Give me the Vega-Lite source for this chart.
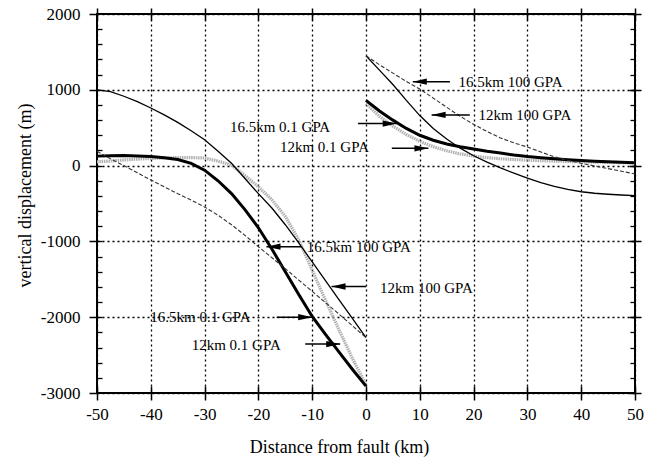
{
  "$schema": "https://vega.github.io/schema/vega-lite/v6.json",
  "autosize": "none",
  "width": 538,
  "height": 379,
  "padding": {"left": 97, "top": 14, "right": 25, "bottom": 65},
  "background": "white",
  "config": {
    "view": {"stroke": "#000", "strokeWidth": 2},
    "font": "Liberation Serif",
    "axis": {"labelFont": "Liberation Serif", "titleFont": "Liberation Serif", "labelColor": "#000", "titleColor": "#000", "tickColor": "#000", "labelFlush": false, "labelOverlap": false, "titleFontWeight": "normal", "domain": false}
  },
  "datasets": {
    "curves": [
      {"curve": "12km 0.1 GPA", "side": "L", "x": -50, "y": 50},
      {"curve": "12km 0.1 GPA", "side": "L", "x": -47.5, "y": 60},
      {"curve": "12km 0.1 GPA", "side": "L", "x": -45, "y": 75},
      {"curve": "12km 0.1 GPA", "side": "L", "x": -42.5, "y": 85},
      {"curve": "12km 0.1 GPA", "side": "L", "x": -40, "y": 95},
      {"curve": "12km 0.1 GPA", "side": "L", "x": -37.5, "y": 100},
      {"curve": "12km 0.1 GPA", "side": "L", "x": -35, "y": 105},
      {"curve": "12km 0.1 GPA", "side": "L", "x": -32.5, "y": 105},
      {"curve": "12km 0.1 GPA", "side": "L", "x": -30, "y": 100},
      {"curve": "12km 0.1 GPA", "side": "L", "x": -27.5, "y": 60},
      {"curve": "12km 0.1 GPA", "side": "L", "x": -25, "y": 5},
      {"curve": "12km 0.1 GPA", "side": "L", "x": -22.5, "y": -130},
      {"curve": "12km 0.1 GPA", "side": "L", "x": -20, "y": -280},
      {"curve": "12km 0.1 GPA", "side": "L", "x": -17.5, "y": -450},
      {"curve": "12km 0.1 GPA", "side": "L", "x": -15, "y": -670},
      {"curve": "12km 0.1 GPA", "side": "L", "x": -12.5, "y": -980},
      {"curve": "12km 0.1 GPA", "side": "L", "x": -10, "y": -1380},
      {"curve": "12km 0.1 GPA", "side": "L", "x": -7.5, "y": -1780},
      {"curve": "12km 0.1 GPA", "side": "L", "x": -5, "y": -2170},
      {"curve": "12km 0.1 GPA", "side": "L", "x": -2.5, "y": -2550},
      {"curve": "12km 0.1 GPA", "side": "L", "x": 0, "y": -2890},
      {"curve": "12km 0.1 GPA", "side": "R", "x": 0, "y": 820},
      {"curve": "12km 0.1 GPA", "side": "R", "x": 2.5, "y": 650},
      {"curve": "12km 0.1 GPA", "side": "R", "x": 5, "y": 520},
      {"curve": "12km 0.1 GPA", "side": "R", "x": 7.5, "y": 410},
      {"curve": "12km 0.1 GPA", "side": "R", "x": 10, "y": 320},
      {"curve": "12km 0.1 GPA", "side": "R", "x": 12.5, "y": 250},
      {"curve": "12km 0.1 GPA", "side": "R", "x": 15, "y": 195},
      {"curve": "12km 0.1 GPA", "side": "R", "x": 17.5, "y": 155},
      {"curve": "12km 0.1 GPA", "side": "R", "x": 20, "y": 125},
      {"curve": "12km 0.1 GPA", "side": "R", "x": 22.5, "y": 105},
      {"curve": "12km 0.1 GPA", "side": "R", "x": 25, "y": 90},
      {"curve": "12km 0.1 GPA", "side": "R", "x": 27.5, "y": 80},
      {"curve": "12km 0.1 GPA", "side": "R", "x": 30, "y": 72},
      {"curve": "12km 0.1 GPA", "side": "R", "x": 32.5, "y": 65},
      {"curve": "12km 0.1 GPA", "side": "R", "x": 35, "y": 60},
      {"curve": "12km 0.1 GPA", "side": "R", "x": 37.5, "y": 55},
      {"curve": "12km 0.1 GPA", "side": "R", "x": 40, "y": 50},
      {"curve": "12km 0.1 GPA", "side": "R", "x": 42.5, "y": 46},
      {"curve": "12km 0.1 GPA", "side": "R", "x": 45, "y": 42},
      {"curve": "12km 0.1 GPA", "side": "R", "x": 47.5, "y": 38},
      {"curve": "12km 0.1 GPA", "side": "R", "x": 50, "y": 35},

      {"curve": "16.5km 0.1 GPA", "side": "L", "x": -50, "y": 125},
      {"curve": "16.5km 0.1 GPA", "side": "L", "x": -47.5, "y": 130},
      {"curve": "16.5km 0.1 GPA", "side": "L", "x": -45, "y": 132},
      {"curve": "16.5km 0.1 GPA", "side": "L", "x": -42.5, "y": 128},
      {"curve": "16.5km 0.1 GPA", "side": "L", "x": -40, "y": 120},
      {"curve": "16.5km 0.1 GPA", "side": "L", "x": -37.5, "y": 105},
      {"curve": "16.5km 0.1 GPA", "side": "L", "x": -35, "y": 80},
      {"curve": "16.5km 0.1 GPA", "side": "L", "x": -32.5, "y": 30},
      {"curve": "16.5km 0.1 GPA", "side": "L", "x": -30, "y": -60},
      {"curve": "16.5km 0.1 GPA", "side": "L", "x": -27.5, "y": -200},
      {"curve": "16.5km 0.1 GPA", "side": "L", "x": -25, "y": -370},
      {"curve": "16.5km 0.1 GPA", "side": "L", "x": -22.5, "y": -580},
      {"curve": "16.5km 0.1 GPA", "side": "L", "x": -20, "y": -820},
      {"curve": "16.5km 0.1 GPA", "side": "L", "x": -17.5, "y": -1100},
      {"curve": "16.5km 0.1 GPA", "side": "L", "x": -15, "y": -1400},
      {"curve": "16.5km 0.1 GPA", "side": "L", "x": -12.5, "y": -1700},
      {"curve": "16.5km 0.1 GPA", "side": "L", "x": -10, "y": -1990},
      {"curve": "16.5km 0.1 GPA", "side": "L", "x": -7.5, "y": -2230},
      {"curve": "16.5km 0.1 GPA", "side": "L", "x": -5, "y": -2460},
      {"curve": "16.5km 0.1 GPA", "side": "L", "x": -2.5, "y": -2690},
      {"curve": "16.5km 0.1 GPA", "side": "L", "x": 0, "y": -2910},
      {"curve": "16.5km 0.1 GPA", "side": "R", "x": 0, "y": 860},
      {"curve": "16.5km 0.1 GPA", "side": "R", "x": 2.5, "y": 720},
      {"curve": "16.5km 0.1 GPA", "side": "R", "x": 5, "y": 600},
      {"curve": "16.5km 0.1 GPA", "side": "R", "x": 7.5, "y": 490},
      {"curve": "16.5km 0.1 GPA", "side": "R", "x": 10, "y": 400},
      {"curve": "16.5km 0.1 GPA", "side": "R", "x": 12.5, "y": 335},
      {"curve": "16.5km 0.1 GPA", "side": "R", "x": 15, "y": 285},
      {"curve": "16.5km 0.1 GPA", "side": "R", "x": 17.5, "y": 250},
      {"curve": "16.5km 0.1 GPA", "side": "R", "x": 20, "y": 220},
      {"curve": "16.5km 0.1 GPA", "side": "R", "x": 22.5, "y": 190},
      {"curve": "16.5km 0.1 GPA", "side": "R", "x": 25, "y": 165},
      {"curve": "16.5km 0.1 GPA", "side": "R", "x": 27.5, "y": 140},
      {"curve": "16.5km 0.1 GPA", "side": "R", "x": 30, "y": 120},
      {"curve": "16.5km 0.1 GPA", "side": "R", "x": 32.5, "y": 105},
      {"curve": "16.5km 0.1 GPA", "side": "R", "x": 35, "y": 90},
      {"curve": "16.5km 0.1 GPA", "side": "R", "x": 37.5, "y": 77},
      {"curve": "16.5km 0.1 GPA", "side": "R", "x": 40, "y": 66},
      {"curve": "16.5km 0.1 GPA", "side": "R", "x": 42.5, "y": 57},
      {"curve": "16.5km 0.1 GPA", "side": "R", "x": 45, "y": 50},
      {"curve": "16.5km 0.1 GPA", "side": "R", "x": 47.5, "y": 44},
      {"curve": "16.5km 0.1 GPA", "side": "R", "x": 50, "y": 38},

      {"curve": "12km 100 GPA", "side": "L", "x": -50, "y": 1000},
      {"curve": "12km 100 GPA", "side": "L", "x": -47.5, "y": 975},
      {"curve": "12km 100 GPA", "side": "L", "x": -45, "y": 915},
      {"curve": "12km 100 GPA", "side": "L", "x": -42.5, "y": 845},
      {"curve": "12km 100 GPA", "side": "L", "x": -40, "y": 760},
      {"curve": "12km 100 GPA", "side": "L", "x": -37.5, "y": 670},
      {"curve": "12km 100 GPA", "side": "L", "x": -35, "y": 570},
      {"curve": "12km 100 GPA", "side": "L", "x": -32.5, "y": 460},
      {"curve": "12km 100 GPA", "side": "L", "x": -30, "y": 340},
      {"curve": "12km 100 GPA", "side": "L", "x": -27.5, "y": 190},
      {"curve": "12km 100 GPA", "side": "L", "x": -25, "y": 30},
      {"curve": "12km 100 GPA", "side": "L", "x": -22.5, "y": -170},
      {"curve": "12km 100 GPA", "side": "L", "x": -20, "y": -370},
      {"curve": "12km 100 GPA", "side": "L", "x": -17.5, "y": -560},
      {"curve": "12km 100 GPA", "side": "L", "x": -15, "y": -780},
      {"curve": "12km 100 GPA", "side": "L", "x": -12.5, "y": -1020},
      {"curve": "12km 100 GPA", "side": "L", "x": -10, "y": -1270},
      {"curve": "12km 100 GPA", "side": "L", "x": -7.5, "y": -1520},
      {"curve": "12km 100 GPA", "side": "L", "x": -5, "y": -1770},
      {"curve": "12km 100 GPA", "side": "L", "x": -2.5, "y": -2020},
      {"curve": "12km 100 GPA", "side": "L", "x": 0, "y": -2270},
      {"curve": "12km 100 GPA", "side": "R", "x": 0, "y": 1450},
      {"curve": "12km 100 GPA", "side": "R", "x": 2.5, "y": 1260},
      {"curve": "12km 100 GPA", "side": "R", "x": 5, "y": 1070},
      {"curve": "12km 100 GPA", "side": "R", "x": 7.5, "y": 860},
      {"curve": "12km 100 GPA", "side": "R", "x": 10, "y": 660},
      {"curve": "12km 100 GPA", "side": "R", "x": 12.5, "y": 490},
      {"curve": "12km 100 GPA", "side": "R", "x": 15, "y": 350},
      {"curve": "12km 100 GPA", "side": "R", "x": 17.5, "y": 230},
      {"curve": "12km 100 GPA", "side": "R", "x": 20, "y": 130},
      {"curve": "12km 100 GPA", "side": "R", "x": 22.5, "y": 45},
      {"curve": "12km 100 GPA", "side": "R", "x": 25, "y": -30},
      {"curve": "12km 100 GPA", "side": "R", "x": 27.5, "y": -100},
      {"curve": "12km 100 GPA", "side": "R", "x": 30, "y": -165},
      {"curve": "12km 100 GPA", "side": "R", "x": 32.5, "y": -225},
      {"curve": "12km 100 GPA", "side": "R", "x": 35, "y": -275},
      {"curve": "12km 100 GPA", "side": "R", "x": 37.5, "y": -315},
      {"curve": "12km 100 GPA", "side": "R", "x": 40, "y": -345},
      {"curve": "12km 100 GPA", "side": "R", "x": 42.5, "y": -365},
      {"curve": "12km 100 GPA", "side": "R", "x": 45, "y": -378},
      {"curve": "12km 100 GPA", "side": "R", "x": 47.5, "y": -388},
      {"curve": "12km 100 GPA", "side": "R", "x": 50, "y": -395},

      {"curve": "16.5km 100 GPA", "side": "L", "x": -50, "y": 190},
      {"curve": "16.5km 100 GPA", "side": "L", "x": -47.5, "y": 90},
      {"curve": "16.5km 100 GPA", "side": "L", "x": -45, "y": 0},
      {"curve": "16.5km 100 GPA", "side": "L", "x": -42.5, "y": -95},
      {"curve": "16.5km 100 GPA", "side": "L", "x": -40, "y": -190},
      {"curve": "16.5km 100 GPA", "side": "L", "x": -37.5, "y": -280},
      {"curve": "16.5km 100 GPA", "side": "L", "x": -35, "y": -370},
      {"curve": "16.5km 100 GPA", "side": "L", "x": -32.5, "y": -455},
      {"curve": "16.5km 100 GPA", "side": "L", "x": -30, "y": -545},
      {"curve": "16.5km 100 GPA", "side": "L", "x": -27.5, "y": -655},
      {"curve": "16.5km 100 GPA", "side": "L", "x": -25, "y": -780},
      {"curve": "16.5km 100 GPA", "side": "L", "x": -22.5, "y": -920},
      {"curve": "16.5km 100 GPA", "side": "L", "x": -20, "y": -1070},
      {"curve": "16.5km 100 GPA", "side": "L", "x": -17.5, "y": -1215},
      {"curve": "16.5km 100 GPA", "side": "L", "x": -15, "y": -1360},
      {"curve": "16.5km 100 GPA", "side": "L", "x": -12.5, "y": -1510},
      {"curve": "16.5km 100 GPA", "side": "L", "x": -10, "y": -1660},
      {"curve": "16.5km 100 GPA", "side": "L", "x": -7.5, "y": -1810},
      {"curve": "16.5km 100 GPA", "side": "L", "x": -5, "y": -1960},
      {"curve": "16.5km 100 GPA", "side": "L", "x": -2.5, "y": -2115},
      {"curve": "16.5km 100 GPA", "side": "L", "x": 0, "y": -2270},
      {"curve": "16.5km 100 GPA", "side": "R", "x": 0, "y": 1450},
      {"curve": "16.5km 100 GPA", "side": "R", "x": 2.5, "y": 1330},
      {"curve": "16.5km 100 GPA", "side": "R", "x": 5, "y": 1220},
      {"curve": "16.5km 100 GPA", "side": "R", "x": 7.5, "y": 1110},
      {"curve": "16.5km 100 GPA", "side": "R", "x": 10, "y": 1010},
      {"curve": "16.5km 100 GPA", "side": "R", "x": 12.5, "y": 890},
      {"curve": "16.5km 100 GPA", "side": "R", "x": 15, "y": 770},
      {"curve": "16.5km 100 GPA", "side": "R", "x": 17.5, "y": 650},
      {"curve": "16.5km 100 GPA", "side": "R", "x": 20, "y": 545},
      {"curve": "16.5km 100 GPA", "side": "R", "x": 22.5, "y": 450},
      {"curve": "16.5km 100 GPA", "side": "R", "x": 25, "y": 365},
      {"curve": "16.5km 100 GPA", "side": "R", "x": 27.5, "y": 300},
      {"curve": "16.5km 100 GPA", "side": "R", "x": 30, "y": 245},
      {"curve": "16.5km 100 GPA", "side": "R", "x": 32.5, "y": 180},
      {"curve": "16.5km 100 GPA", "side": "R", "x": 35, "y": 115},
      {"curve": "16.5km 100 GPA", "side": "R", "x": 37.5, "y": 70},
      {"curve": "16.5km 100 GPA", "side": "R", "x": 40, "y": 30},
      {"curve": "16.5km 100 GPA", "side": "R", "x": 42.5, "y": -5},
      {"curve": "16.5km 100 GPA", "side": "R", "x": 45, "y": -40},
      {"curve": "16.5km 100 GPA", "side": "R", "x": 47.5, "y": -75},
      {"curve": "16.5km 100 GPA", "side": "R", "x": 50, "y": -110}
    ],
    "arrows": [
      {"dir": "L", "head": 8.7, "tail": 15.6, "y": 1107},
      {"dir": "L", "head": 12.2, "tail": 19.3, "y": 668},
      {"dir": "R", "head": 5.7, "tail": -1.5, "y": 555},
      {"dir": "R", "head": 11.6, "tail": 4.8, "y": 228},
      {"dir": "L", "head": -18.5, "tail": -12, "y": -1070},
      {"dir": "L", "head": -6.4, "tail": 0, "y": -1595},
      {"dir": "R", "head": -10, "tail": -16.6, "y": -2000},
      {"dir": "R", "head": -4.8, "tail": -11.3, "y": -2354}
    ],
    "labels": [
      {"label": "16.5km 100 GPA", "x": 17.2, "y": 1107},
      {"label": "12km 100 GPA", "x": 20.9, "y": 668},
      {"label": "16.5km 0.1 GPA", "x": -25.3, "y": 515},
      {"label": "12km 0.1 GPA", "x": -16, "y": 250},
      {"label": "16.5km 100 GPA", "x": -11, "y": -1070},
      {"label": "12km 100 GPA", "x": 2.6, "y": -1610},
      {"label": "16.5km 0.1 GPA", "x": -40.1, "y": -1995},
      {"label": "12km 0.1 GPA", "x": -32.4, "y": -2367}
    ]
  },
  "resolve": {"scale": {"x": "shared", "y": "shared"}, "axis": {"x": "independent", "y": "independent"}},
  "layer": [
    {
      "data": {"name": "curves"},
      "transform": [{"filter": "datum.curve === '12km 0.1 GPA'"}],
      "mark": {"type": "line", "stroke": "#b0b0b0", "strokeWidth": 3.2, "strokeDash": [1.5, 0.8]},
      "encoding": {
        "x": {"field": "x", "type": "quantitative", "scale": {"domain": [-50, 50], "nice": false, "zero": false},
          "axis": {"orient": "bottom", "values": [-50, -40, -30, -20, -10, 0, 10, 20, 30, 40, 50], "labelExpr": "datum.value < 0 ? '-' + abs(datum.value) : '' + datum.value", "title": "Distance from fault (km)", "grid": true, "gridDash": [2, 3], "gridColor": "#000", "gridWidth": 1.3, "gridOpacity": 1, "ticks": true, "tickSize": 7, "tickWidth": 1.5, "labelPadding": 6, "labelFontSize": 17, "titleFontSize": 18, "titleX": 242, "titleY": 54, "titleAlign": "center", "titleBaseline": "middle"}},
        "y": {"field": "y", "type": "quantitative", "scale": {"domain": [-3000, 2000], "nice": false, "zero": false},
          "axis": {"orient": "left", "values": [-3000, -2000, -1000, 0, 1000, 2000], "labelExpr": "datum.value < 0 ? '-' + abs(datum.value) : '' + datum.value", "title": "vertical displacement (m)", "grid": true, "gridDash": [2, 3], "gridColor": "#000", "gridWidth": 1.3, "gridOpacity": 1, "ticks": true, "tickSize": 8, "tickWidth": 1.5, "labelPadding": 9, "labelFontSize": 17, "titleFontSize": 18, "titleAngle": 270, "titleX": -72, "titleY": 181, "titleAlign": "center", "titleBaseline": "middle"}},
        "detail": {"field": "side"}
      }
    },
    {
      "data": {"name": "curves"},
      "transform": [{"filter": "datum.curve === '16.5km 0.1 GPA'"}],
      "mark": {"type": "line", "stroke": "#000", "strokeWidth": 3},
      "encoding": {
        "x": {"field": "x", "type": "quantitative",
          "axis": {"orient": "bottom", "values": [-50, -40, -30, -20, -10, 0, 10, 20, 30, 40, 50], "offset": -7, "tickSize": 7, "tickWidth": 1.5, "labels": false, "grid": false, "title": null}},
        "y": {"field": "y", "type": "quantitative",
          "axis": {"orient": "left", "values": [-2800, -2600, -2400, -2200, -2000, -1800, -1600, -1400, -1200, -1000, -800, -600, -400, -200, 0, 200, 400, 600, 800, 1000, 1200, 1400, 1600, 1800], "offset": -5, "tickSize": 5, "tickWidth": 1.3, "labels": false, "grid": false, "title": null}},
        "detail": {"field": "side"}
      }
    },
    {
      "data": {"name": "curves"},
      "transform": [{"filter": "datum.curve === '12km 100 GPA'"}],
      "mark": {"type": "line", "stroke": "#000", "strokeWidth": 1.3},
      "encoding": {
        "x": {"field": "x", "type": "quantitative",
          "axis": {"orient": "top", "values": [-50, -40, -30, -20, -10, 0, 10, 20, 30, 40, 50], "offset": -6, "tickSize": 12, "tickWidth": 1.5, "labels": false, "grid": false, "title": null}},
        "y": {"field": "y", "type": "quantitative",
          "axis": {"orient": "right", "values": [-3000, -2000, -1000, 0, 1000, 2000], "offset": -6, "tickSize": 12, "tickWidth": 1.5, "labels": false, "grid": false, "title": null}},
        "detail": {"field": "side"}
      }
    },
    {
      "data": {"name": "curves"},
      "transform": [{"filter": "datum.curve === '16.5km 100 GPA'"}],
      "mark": {"type": "line", "stroke": "#333", "strokeWidth": 1.1, "strokeDash": [4, 2]},
      "encoding": {
        "x": {"field": "x", "type": "quantitative", "axis": null},
        "y": {"field": "y", "type": "quantitative",
          "axis": {"orient": "right", "values": [-2800, -2600, -2400, -2200, -2000, -1800, -1600, -1400, -1200, -1000, -800, -600, -400, -200, 0, 200, 400, 600, 800, 1000, 1200, 1400, 1600, 1800], "offset": -5, "tickSize": 5, "tickWidth": 1.3, "labels": false, "grid": false, "title": null}},
        "detail": {"field": "side"}
      }
    },
    {
      "mark": {"type": "rule", "stroke": "#000", "strokeWidth": 2},
      "encoding": {"x": {"datum": 0, "type": "quantitative", "axis": null}}
    },
    {
      "mark": {"type": "rule", "stroke": "#000", "strokeWidth": 1.5},
      "encoding": {"y": {"datum": 0, "type": "quantitative", "axis": null}}
    },
    {
      "data": {"name": "arrows"},
      "mark": {"type": "rule", "stroke": "#000", "strokeWidth": 1.5},
      "encoding": {
        "x": {"field": "head", "type": "quantitative", "axis": null},
        "x2": {"field": "tail"},
        "y": {"field": "y", "type": "quantitative", "axis": null}
      }
    },
    {
      "data": {"name": "arrows"},
      "mark": {"type": "point", "filled": true, "fill": "#000", "stroke": null, "size": 196, "opacity": 1},
      "encoding": {
        "x": {"field": "head", "type": "quantitative", "axis": null},
        "y": {"field": "y", "type": "quantitative", "axis": null},
        "shape": {"field": "dir", "type": "nominal", "scale": {"domain": ["L", "R"], "range": ["M0,0L2,-0.45L2,0.45Z", "M0,0L-2,-0.45L-2,0.45Z"]}, "legend": null}
      }
    },
    {
      "data": {"name": "labels"},
      "mark": {"type": "text", "font": "Liberation Serif", "fontSize": 15, "align": "left", "baseline": "middle", "fill": "#000"},
      "encoding": {
        "x": {"field": "x", "type": "quantitative", "axis": null},
        "y": {"field": "y", "type": "quantitative", "axis": null},
        "text": {"field": "label"}
      }
    }
  ]
}
